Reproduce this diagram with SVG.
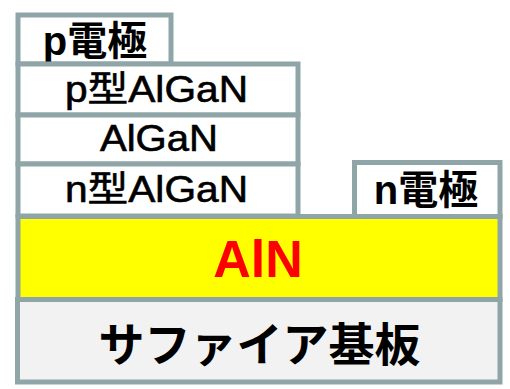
<svg xmlns="http://www.w3.org/2000/svg" width="510" height="389" viewBox="0 0 510 389">
<style>
.layer{fill:#FFFFFF;stroke:#8FA5A8;stroke-width:5}
.t{font-family:"Liberation Sans","Noto Sans CJK JP",sans-serif;fill:#000000;text-anchor:middle}
.reg{font-size:36px;font-weight:normal;stroke:#000000;stroke-width:0.6}
.elec{font-size:40px;font-weight:bold}
</style>
<rect width="510" height="389" fill="#FFFFFF"/>
<g id="p-electrode">
<rect class="layer" x="18" y="15" width="153" height="49"/>
<text class="t elec" x="95" y="55">p電極</text>
</g>
<g id="p-AlGaN">
<rect class="layer" x="18" y="64" width="280" height="51"/>
<text class="t reg" x="156.5" y="102" textLength="183" lengthAdjust="spacingAndGlyphs">p型AlGaN</text>
</g>
<g id="AlGaN">
<rect class="layer" x="18" y="115" width="280" height="49"/>
<text class="t reg" x="159" y="151" textLength="118" lengthAdjust="spacingAndGlyphs">AlGaN</text>
</g>
<g id="n-AlGaN">
<rect class="layer" x="18" y="164" width="280" height="52"/>
<text class="t reg" x="156.5" y="202" textLength="183" lengthAdjust="spacingAndGlyphs">n型AlGaN</text>
</g>
<g id="n-electrode">
<rect class="layer" x="354.5" y="162.5" width="145.5" height="54"/>
<text class="t elec" x="426" y="204">n電極</text>
</g>
<g id="AlN">
<rect class="layer" x="18" y="216.5" width="482" height="83" style="fill:#FFFF00"/>
<text class="t" x="258" y="277" style="font-size:52px;font-weight:bold;fill:#FF0000">AlN</text>
</g>
<g id="sapphire">
<rect class="layer" x="17.5" y="299.5" width="482.5" height="82.5" style="fill:#F2F2F2"/>
<text class="t" x="259.5" y="361" style="font-size:46px;font-weight:bold">サファイア基板</text>
</g>
</svg>
